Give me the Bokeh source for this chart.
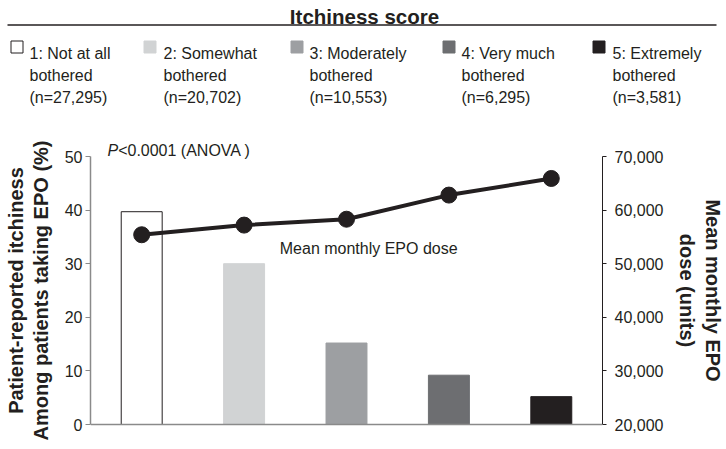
from bokeh.plotting import figure
from bokeh.models import Range1d, LinearAxis, FixedTicker, NumeralTickFormatter, Span
from bokeh.layouts import column
from bokeh.core.properties import value
from bokeh.embed import file_html
from bokeh.resources import INLINE

# ---------------- data ----------------
scores = [1, 2, 3, 4, 5]
score_labels = ["1: Not at all", "2: Somewhat", "3: Moderately", "4: Very much", "5: Extremely"]
score_second_line = ["bothered", "bothered", "bothered", "bothered", "bothered"]
n_patients = [27295, 20702, 10553, 6295, 3581]
itch_pct = [39.7, 30.0, 15.2, 9.2, 5.2]
epo_dose = [55400, 57200, 58300, 62800, 65900]
pct_ticks = [0, 10, 20, 30, 40, 50]
dose_ticks = [20000, 30000, 40000, 50000, 60000, 70000]
left_title = ["Patient-reported itchiness", "Among patients taking EPO (%)"]
right_title = ["Mean monthly EPO", "dose (units)"]

# ---------------- styles / layout ----------------
FONT = "Liberation Sans"
INK = "#231f20"
AXIS_GRAY = "#8a8a8a"
bar_fill = ["#ffffff", "#d1d3d4", "#9d9fa2", "#6d6e71", "#231f20"]
bar_line = [INK, "#d1d3d4", "#9d9fa2", "#6d6e71", "#231f20"]

W = 726
HEAD_H = 128
MAIN_H = 321
FRAME_TOP = 137      # page y
FRAME_BOTTOM = 443   # page y
Y50 = 156            # page y of 50 %
Y0 = 424             # page y of 0 %
LEFT_B = 90
RIGHT_B = 122

# ---------------- header (title + legend) ----------------
h = figure(width=W, height=HEAD_H, x_range=Range1d(0, W), y_range=Range1d(0, HEAD_H),
           toolbar_location=None, output_backend="svg", min_border=0,
           x_axis_location=None, y_axis_location=None, title=None)
h.frame_align = False
h.grid.visible = False
h.outline_line_color = None


def hy(page_y):
    return HEAD_H - page_y


h.text(x=[364], y=[hy(16)], text=["Itchiness score"], text_font=value(FONT),
       text_font_style="bold", text_font_size="20.5px", text_align="center",
       text_baseline="alphabetic", text_color=INK)
h.segment(x0=[7], y0=[hy(24.5)], x1=[716], y1=[hy(24.5)], line_width=1.3, line_color=INK)

leg_sq_left = [10, 143, 290, 442, 592]
leg_txt_left = [29, 163, 309, 461, 612]
h.rect(x=[v + 6.5 for v in leg_sq_left], y=[hy(46.5)] * 5, width=12, height=12,
       fill_color=bar_fill, line_color=bar_line, line_width=1)
line3 = ["(n={:,})".format(n) for n in n_patients]
for lines, base in ((score_labels, 53), (score_second_line, 74.5), (line3, 96.5)):
    h.text(x=leg_txt_left, y=[hy(base)] * 5, text=lines,
           text_font=value(FONT), text_font_size="16px", text_align="left",
           text_baseline="alphabetic", text_color=INK)

# ---------------- main chart ----------------
PX_PER_UNIT = (Y0 - Y50) / 50.0
y_lo = -(FRAME_BOTTOM - Y0) / PX_PER_UNIT
y_hi = 50 + (Y50 - FRAME_TOP) / PX_PER_UNIT
frame_w = W - LEFT_B - RIGHT_B
px_per_cat = frame_w / 5.0

p = figure(width=W, height=MAIN_H, x_range=Range1d(0.5, 5.5), y_range=Range1d(y_lo, y_hi),
           toolbar_location=None, output_backend="svg",
           min_border_left=LEFT_B, min_border_right=RIGHT_B,
           min_border_top=FRAME_TOP - HEAD_H, min_border_bottom=HEAD_H + MAIN_H - FRAME_BOTTOM,
           x_axis_location=None, title=None)
p.frame_align = False
p.grid.visible = False
p.outline_line_color = None
p.extra_y_ranges = {"dose": Range1d(20000 + y_lo * 1000, 20000 + y_hi * 1000)}


def style_title(ax, text, standoff):
    ax.axis_label = text
    ax.axis_label_text_font = FONT
    ax.axis_label_text_font_size = "20px"
    ax.axis_label_text_font_style = "bold"
    ax.axis_label_text_color = INK
    ax.axis_label_standoff = standoff


def title_only_axis(range_name, text, standoff):
    ax = LinearAxis(y_range_name=range_name, ticker=FixedTicker(ticks=[]))
    ax.axis_line_color = None
    ax.major_tick_in = 0
    ax.major_tick_out = 0
    ax.minor_tick_in = 0
    ax.minor_tick_out = 0
    ax.major_label_standoff = 0
    ax.minor_tick_line_color = None
    ax.major_tick_line_color = None
    style_title(ax, text, standoff)
    return ax


ya = p.yaxis[0]
ya.ticker = FixedTicker(ticks=pct_ticks)
ya.bounds = (0, 50)
ya.axis_line_color = AXIS_GRAY
ya.axis_line_width = 1.5
ya.major_tick_line_color = AXIS_GRAY
ya.major_tick_in = 0
ya.major_tick_out = 5
ya.minor_tick_line_color = None
ya.major_label_text_font = FONT
ya.major_label_text_font_size = "16px"
ya.major_label_text_color = INK
ya.major_label_standoff = 3
style_title(ya, left_title[1], 10)
p.add_layout(title_only_axis("default", left_title[0], 0), "left")

ra = LinearAxis(y_range_name="dose", ticker=FixedTicker(ticks=dose_ticks),
                formatter=NumeralTickFormatter(format="0,0"), bounds=(20000, 70000))
ra.axis_line_color = INK
ra.axis_line_width = 1
ra.major_tick_line_color = INK
ra.major_tick_in = 0
ra.major_tick_out = 4
ra.minor_tick_line_color = None
ra.major_label_text_font = FONT
ra.major_label_text_font_size = "16px"
ra.major_label_text_color = INK
ra.major_label_standoff = 8
style_title(ra, right_title[1], 10)
p.add_layout(ra, "right")
p.add_layout(title_only_axis("dose", right_title[0], 0), "right")

p.vbar(x=scores, top=itch_pct, bottom=0, width=0.4, fill_color=bar_fill,
       line_color=bar_line, line_width=1)
p.add_layout(Span(location=0, dimension="width", line_color=AXIS_GRAY, line_width=1.5))

p.line(scores, epo_dose, y_range_name="dose", line_width=4, line_color=INK)
p.scatter(scores, epo_dose, y_range_name="dose", size=16, fill_color=INK, line_color=INK)


def px2x(page_x):
    return 0.5 + (page_x - LEFT_B) / px_per_cat


def py2y(page_y):
    return (Y0 - page_y) / PX_PER_UNIT


p.text(x=[px2x(107)], y=[py2y(150)], text=["P"], text_font=value(FONT),
       text_font_style="italic", text_font_size="16px", text_baseline="alphabetic",
       text_align="left", text_color=INK)
p.text(x=[px2x(107)], y=[py2y(150)], text=["<0.0001 (ANOVA )"], x_offset=10.7,
       text_font=value(FONT), text_font_size="16px", text_baseline="alphabetic",
       text_align="left", text_color=INK)
p.text(x=[px2x(280)], y=[py2y(248)], text=["Mean monthly EPO dose"], text_font=value(FONT),
       text_font_size="16px", text_baseline="alphabetic", text_align="left", text_color=INK)

layout = column(h, p)
open("out.html", "w").write(file_html(layout, INLINE))
